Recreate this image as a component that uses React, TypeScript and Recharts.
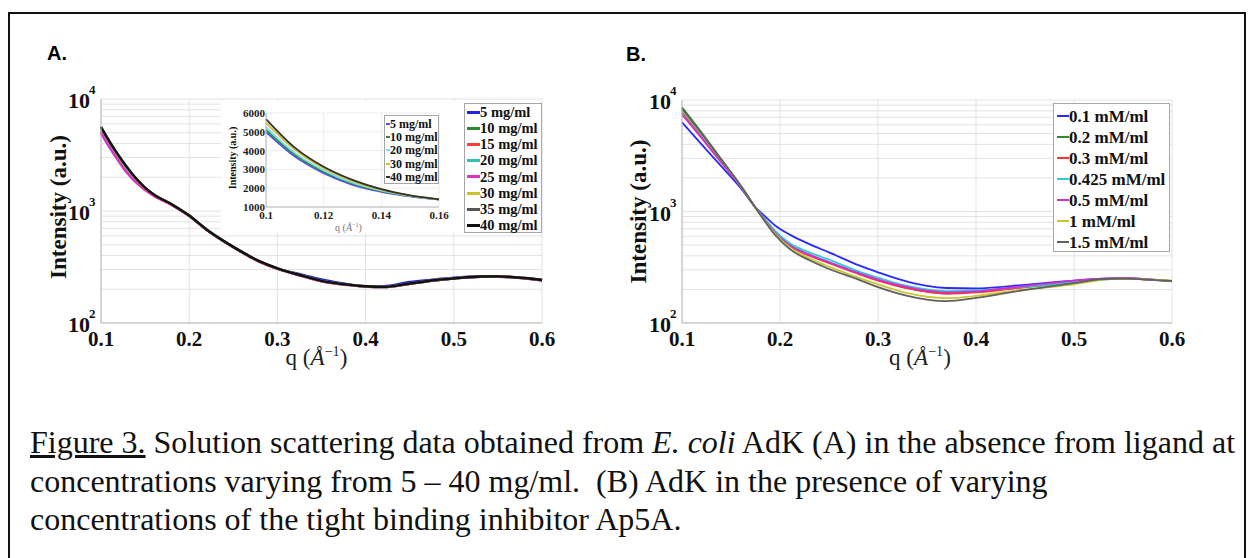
import React from 'react';
import { LineChart, Line, XAxis, YAxis, CartesianGrid, Legend } from 'recharts';

const SERIF = '"Liberation Serif", "Times New Roman", Times, serif';
const SANS = '"Liberation Sans", Arial, Helvetica, sans-serif';

// ---- panel A: AdK without ligand, 5 - 40 mg/ml ----
const qA = [0.1, 0.11, 0.12, 0.13, 0.14, 0.15, 0.16, 0.18, 0.2, 0.22, 0.25, 0.28, 0.3, 0.33, 0.35, 0.38, 0.4, 0.42, 0.45, 0.48, 0.5, 0.53, 0.55, 0.58, 0.6];
const a5 = [4980, 3680, 2800, 2180, 1810, 1560, 1380, 1140, 905, 678, 476, 352, 306, 268, 245, 222, 212, 213, 232, 245, 254, 260, 260, 251, 241];
const a10 = [5100, 3780, 2880, 2240, 1840, 1580, 1390, 1145, 908, 680, 477, 354, 307, 261, 237, 219, 212, 209, 224, 241, 250, 259, 260, 251, 241];
const a15 = [5150, 3800, 2870, 2220, 1820, 1555, 1370, 1140, 905, 676, 475, 352, 306, 260, 236, 219, 212, 209, 224, 241, 250, 259, 260, 251, 241];
const a20 = [5250, 3880, 2950, 2290, 1870, 1590, 1395, 1148, 909, 679, 477, 354, 307, 261, 237, 219, 212, 209, 224, 241, 250, 259, 260, 251, 241];
const a25 = [5000, 3700, 2790, 2170, 1790, 1540, 1360, 1135, 902, 675, 474, 351, 305, 260, 236, 218, 211, 209, 223, 240, 249, 258, 259, 250, 240];
const a30 = [5480, 4050, 3060, 2380, 1910, 1600, 1405, 1150, 910, 680, 478, 355, 308, 262, 238, 220, 213, 210, 225, 242, 250, 260, 261, 252, 242];
const a35 = [5550, 4100, 3100, 2410, 1930, 1610, 1405, 1150, 910, 680, 478, 355, 308, 262, 238, 220, 213, 210, 225, 242, 250, 260, 261, 252, 242];
const a40 = [5650, 4150, 3140, 2440, 1950, 1620, 1400, 1150, 910, 680, 478, 355, 308, 262, 238, 220, 213, 210, 225, 242, 250, 260, 261, 252, 242];

// ---- inset of panel A (linear, low q) ----
const qIn = [0.1, 0.11, 0.12, 0.13, 0.14, 0.15, 0.16];
const in5 = [4980, 3680, 2800, 2180, 1810, 1560, 1390];
const in10 = [5100, 3780, 2880, 2240, 1840, 1580, 1400];
const in20 = [5250, 3880, 2950, 2290, 1870, 1590, 1400];
const in30 = [5480, 4050, 3060, 2380, 1910, 1600, 1410];
const in40 = [5680, 4160, 3140, 2440, 1950, 1620, 1410];

// ---- panel B: AdK + Ap5A ----
const qB = [0.1, 0.12, 0.14, 0.16, 0.175, 0.185, 0.195, 0.21, 0.23, 0.25, 0.28, 0.3, 0.33, 0.35, 0.37, 0.4, 0.43, 0.45, 0.48, 0.5, 0.53, 0.55, 0.58, 0.6];
const b01 = [6300, 4000, 2550, 1620, 1090, 900, 750, 620, 510, 430, 330, 285, 235, 215, 206, 204, 212, 220, 232, 240, 250, 252, 245, 238];
const b02 = [8600, 5100, 2950, 1700, 1080, 830, 650, 500, 410, 350, 280, 245, 205, 192, 185, 190, 202, 210, 222, 232, 248, 250, 244, 238];
const b03 = [7700, 4700, 2800, 1680, 1085, 825, 640, 490, 402, 345, 276, 240, 205, 190, 183, 188, 200, 210, 225, 235, 248, 250, 244, 236];
const b0425 = [8000, 4850, 2870, 1690, 1085, 850, 670, 520, 430, 370, 290, 255, 215, 200, 193, 196, 205, 212, 222, 232, 245, 250, 244, 238];
const b05 = [7400, 4550, 2750, 1670, 1085, 830, 645, 495, 408, 350, 280, 245, 210, 195, 188, 192, 205, 215, 230, 240, 250, 252, 245, 237];
const b1 = [8200, 4950, 2900, 1690, 1080, 815, 630, 475, 380, 320, 255, 222, 185, 172, 167, 175, 190, 200, 212, 222, 245, 250, 245, 240];
const b15 = [8400, 5000, 2920, 1700, 1080, 805, 615, 460, 365, 305, 245, 210, 175, 162, 157, 168, 185, 198, 215, 228, 248, 250, 244, 238];

// ticks
const logTicks = [100, 200, 300, 400, 500, 600, 700, 800, 900, 1000, 2000, 3000, 4000, 5000, 6000, 7000, 8000, 9000, 10000];
const qTicks = [0.1, 0.2, 0.3, 0.4, 0.5, 0.6];
const insetYTicks = [1000, 2000, 3000, 4000, 5000, 6000];
const insetQTicks = [0.1, 0.12, 0.14, 0.16];

const seriesA = [
  { key: 'a5', name: '5 mg/ml', values: a5, color: '#2323e0' },
  { key: 'a10', name: '10 mg/ml', values: a10, color: '#2b8c2b' },
  { key: 'a15', name: '15 mg/ml', values: a15, color: '#ff3b3b' },
  { key: 'a20', name: '20 mg/ml', values: a20, color: '#2ec4b0' },
  { key: 'a25', name: '25 mg/ml', values: a25, color: '#e033c8' },
  { key: 'a30', name: '30 mg/ml', values: a30, color: '#c9c22a' },
  { key: 'a35', name: '35 mg/ml', values: a35, color: '#555555' },
  { key: 'a40', name: '40 mg/ml', values: a40, color: '#111111' },
];

const seriesIn = [
  { key: 'i5', name: '5 mg/ml', values: in5, color: '#5050ff' },
  { key: 'i10', name: '10 mg/ml', values: in10, color: '#2e8b2e' },
  { key: 'i20', name: '20 mg/ml', values: in20, color: '#80d8ff' },
  { key: 'i30', name: '30 mg/ml', values: in30, color: '#d0c030' },
  { key: 'i40', name: '40 mg/ml', values: in40, color: '#303030' },
];

const seriesB = [
  { key: 'b01', name: '0.1 mM/ml', values: b01, color: '#2a2aff' },
  { key: 'b02', name: '0.2 mM/ml', values: b02, color: '#2e8a2e' },
  { key: 'b03', name: '0.3 mM/ml', values: b03, color: '#ff3030' },
  { key: 'b0425', name: '0.425 mM/ml', values: b0425, color: '#30c8d8' },
  { key: 'b05', name: '0.5 mM/ml', values: b05, color: '#d030d0' },
  { key: 'b1', name: '1 mM/ml', values: b1, color: '#c8c830' },
  { key: 'b15', name: '1.5 mM/ml', values: b15, color: '#606060' },
];

function toRows(q: number[], series: { key: string; values: number[] }[]) {
  return q.map((x, i) => {
    const row: any = { q: x };
    series.forEach((s) => {
      row[s.key] = s.values[i];
    });
    return row;
  });
}

const GRID = '#e2e2e2';
const FRAME = '#b8b8b8';

const LogTick = ({ x, y, payload }: any) => {
  const exp = Math.round(Math.log10(payload.value));
  if (Math.pow(10, exp) !== payload.value) return null;
  return (
    <g fontFamily={SERIF} fontWeight="bold" fill="#111">
      <text x={x - 11} y={y + 9} textAnchor="end" fontSize={22}>10</text>
      <text x={x - 12} y={y - 5} fontSize={13}>{exp}</text>
    </g>
  );
};

const QTick = ({ x, y, payload }: any) => (
  <text x={x} y={y + 23} textAnchor="middle" fontFamily={SERIF} fontWeight="bold" fontSize={21} fill="#111">
    {payload.value.toFixed(1)}
  </text>
);

const InsetYTick = ({ x, y, payload }: any) => (
  <text x={x - 1} y={y + 4} textAnchor="end" fontFamily={SERIF} fontWeight="bold" fontSize={11} fill="#222">
    {payload.value}
  </text>
);

const InsetQTick = ({ x, y, payload }: any) => (
  <text x={x} y={y + 12} textAnchor="middle" fontFamily={SERIF} fontWeight="bold" fontSize={11} fill="#222">
    {payload.value === 0.1 ? '0.1' : payload.value.toFixed(2)}
  </text>
);

const qLabel = (size: number, dx: number, dy: number, color: string) => (props: any) => {
  const vb = props.viewBox;
  const cx = vb.x + vb.width / 2 + dx;
  const cy = vb.y + dy;
  return (
    <text x={cx} y={cy} textAnchor="middle" fontFamily={SERIF} fontSize={size} fill={color}>
      q (<tspan fontStyle="italic">Å</tspan>
      <tspan dy={-size * 0.4} fontSize={size * 0.62}>−1</tspan>
      <tspan dy={size * 0.4}>)</tspan>
    </text>
  );
};

const intensityLabel = (size: number, fromLeft: number, dy: number) => (props: any) => {
  const vb = props.viewBox;
  const cx = vb.x + vb.width - fromLeft;
  const cy = vb.y + vb.height / 2 + dy;
  return (
    <text
      x={cx}
      y={cy}
      transform={`rotate(-90 ${cx} ${cy})`}
      textAnchor="middle"
      dominantBaseline="central"
      fontFamily={SERIF}
      fontWeight="bold"
      fontSize={size}
      fill="#111"
    >
      Intensity (a.u.)
    </text>
  );
};

const legendBox = (
  items: { name: string; color: string }[],
  opts: { width: number; height: number; rowH: number; padTop: number; sampleW: number; sampleGap: number; lineW: number; fontSize: number }
) => () => (
  <div
    style={{
      boxSizing: 'border-box',
      width: opts.width,
      height: opts.height,
      border: '1px solid #a6a6a6',
      background: '#fff',
      paddingTop: opts.padTop,
      paddingLeft: opts.sampleGap,
    }}
  >
    {items.map((it) => (
      <div key={it.name} style={{ display: 'flex', alignItems: 'center', height: opts.rowH }}>
        <span style={{ display: 'inline-block', width: opts.sampleW, height: opts.lineW, background: it.color }} />
        <span
          style={{
            fontFamily: SERIF,
            fontWeight: 'bold',
            fontSize: opts.fontSize,
            color: '#111',
            whiteSpace: 'nowrap',
            lineHeight: 1,
          }}
        >
          {it.name}
        </span>
      </div>
    ))}
  </div>
);

function PanelA() {
  const rows = toRows(qA, seriesA);
  return (
    <LineChart width={620} height={400} data={rows} margin={{ top: 99, right: 78, bottom: 37, left: 41 }}>
      <CartesianGrid stroke={GRID} />
      <XAxis
        dataKey="q"
        type="number"
        domain={[0.1, 0.6]}
        ticks={qTicks}
        interval={0}
        height={40}
        tickSize={0}
        tickMargin={0}
        tick={QTick}
        axisLine={{ stroke: FRAME }}
        label={qLabel(23, -5, 42, '#222')}
      />
      <XAxis xAxisId="top" orientation="top" dataKey="q" type="number" domain={[0.1, 0.6]} height={0} tick={false} tickLine={false} axisLine={{ stroke: FRAME }} />
      <YAxis
        scale="log"
        domain={[100, 10000]}
        allowDataOverflow
        ticks={logTicks}
        interval={0}
        width={60}
        tickSize={0}
        tickMargin={0}
        tick={LogTick}
        axisLine={{ stroke: FRAME }}
        label={intensityLabel(23, 43, -4)}
      />
      <YAxis yAxisId="right" orientation="right" scale="log" domain={[100, 10000]} allowDataOverflow width={0} tick={false} tickLine={false} axisLine={{ stroke: FRAME }} />
      <Legend
        layout="vertical"
        align="center"
        verticalAlign="middle"
        wrapperStyle={{ left: 464, top: 103, width: 78, height: 130 }}
        content={legendBox(seriesA, { width: 78, height: 130, rowH: 16.2, padTop: 0, sampleW: 13, sampleGap: 2, lineW: 3, fontSize: 14.5 })}
      />
      {seriesA.map((s) => (
        <Line key={s.key} dataKey={s.key} type="monotone" stroke={s.color} strokeWidth={2.4} dot={false} isAnimationActive={false} />
      ))}
    </LineChart>
  );
}

function InsetA() {
  const rows = toRows(qIn, seriesIn);
  return (
    <LineChart width={243} height={132} data={rows} margin={{ top: 12, right: 25, bottom: 0, left: 0 }} style={{ background: '#fff' }}>
      <CartesianGrid stroke="#ececec" />
      <XAxis
        dataKey="q"
        type="number"
        domain={[0.1, 0.16]}
        ticks={insetQTicks}
        interval={0}
        height={26}
        tickSize={0}
        tickMargin={0}
        tick={InsetQTick}
        axisLine={{ stroke: FRAME }}
        label={qLabel(10, -4, 24, '#777')}
      />
      <XAxis xAxisId="top" orientation="top" dataKey="q" type="number" domain={[0.1, 0.16]} height={0} tick={false} tickLine={false} axisLine={{ stroke: FRAME }} />
      <YAxis
        domain={[1000, 6000]}
        ticks={insetYTicks}
        interval={0}
        width={45}
        tickSize={0}
        tickMargin={0}
        tick={InsetYTick}
        axisLine={{ stroke: FRAME }}
        label={intensityLabel(10, 34, -2)}
      />
      <YAxis yAxisId="right" orientation="right" domain={[1000, 6000]} width={0} tick={false} tickLine={false} axisLine={{ stroke: FRAME }} />
      <Legend
        layout="vertical"
        align="center"
        verticalAlign="middle"
        wrapperStyle={{ left: 163, top: 14, width: 55, height: 69 }}
        content={legendBox(seriesIn, { width: 55, height: 69, rowH: 13.4, padTop: 1, sampleW: 4, sampleGap: 1, lineW: 2, fontSize: 12 })}
      />
      {seriesIn.map((s) => (
        <Line key={s.key} dataKey={s.key} type="monotone" stroke={s.color} strokeWidth={1.8} dot={false} isAnimationActive={false} />
      ))}
    </LineChart>
  );
}

function PanelB() {
  const rows = toRows(qB, seriesB);
  return (
    <LineChart width={628} height={400} data={rows} margin={{ top: 100, right: 76, bottom: 37, left: 2 }}>
      <CartesianGrid stroke={GRID} />
      <XAxis
        dataKey="q"
        type="number"
        domain={[0.1, 0.6]}
        ticks={qTicks}
        interval={0}
        height={40}
        tickSize={0}
        tickMargin={0}
        tick={QTick}
        axisLine={{ stroke: FRAME }}
        label={qLabel(23, -7, 42, '#222')}
      />
      <XAxis xAxisId="top" orientation="top" dataKey="q" type="number" domain={[0.1, 0.6]} height={0} tick={false} tickLine={false} axisLine={{ stroke: FRAME }} />
      <YAxis
        scale="log"
        domain={[100, 10000]}
        allowDataOverflow
        ticks={logTicks}
        interval={0}
        width={60}
        tickSize={0}
        tickMargin={0}
        tick={LogTick}
        axisLine={{ stroke: FRAME }}
        label={intensityLabel(23, 44, 0)}
      />
      <YAxis yAxisId="right" orientation="right" scale="log" domain={[100, 10000]} allowDataOverflow width={0} tick={false} tickLine={false} axisLine={{ stroke: FRAME }} />
      <Legend
        layout="vertical"
        align="center"
        verticalAlign="middle"
        wrapperStyle={{ left: 433, top: 103, width: 117, height: 149 }}
        content={legendBox(seriesB, { width: 117, height: 149, rowH: 21, padTop: 1.5, sampleW: 12, sampleGap: 3, lineW: 2, fontSize: 17 })}
      />
      {seriesB.map((s) => (
        <Line key={s.key} dataKey={s.key} type="monotone" stroke={s.color} strokeWidth={1.8} dot={false} isAnimationActive={false} />
      ))}
    </LineChart>
  );
}

export default function App() {
  return (
    <div style={{ position: 'absolute', left: 0, top: 0, width: 1248, height: 558, background: '#fff', overflow: 'hidden' }}>
      <div
        style={{
          position: 'absolute',
          left: 8,
          top: 12,
          width: 1238,
          height: 560,
          boxSizing: 'border-box',
          border: '2px solid #111',
        }}
      />
      <div style={{ position: 'absolute', left: 47, top: 43, fontFamily: SANS, fontWeight: 'bold', fontSize: 20, lineHeight: '20px' }}>A.</div>
      <div style={{ position: 'absolute', left: 626, top: 44, fontFamily: SANS, fontWeight: 'bold', fontSize: 20, lineHeight: '20px' }}>B.</div>
      <div style={{ position: 'absolute', left: 0, top: 0 }}>
        <PanelA />
      </div>
      <div style={{ position: 'absolute', left: 221, top: 101 }}>
        <InsetA />
      </div>
      <div style={{ position: 'absolute', left: 620, top: 0 }}>
        <PanelB />
      </div>
      <div
        style={{
          position: 'absolute',
          left: 30,
          top: 423,
          fontFamily: SERIF,
          fontSize: 32,
          lineHeight: '38.5px',
          color: '#111',
          whiteSpace: 'nowrap',
        }}
      >
        <span style={{ textDecoration: 'underline' }}>Figure 3.</span> Solution scattering data obtained from <i>E. coli</i> AdK (A) in the absence from ligand at
        <br />
        concentrations varying from 5 – 40 mg/ml.&nbsp; (B) AdK in the presence of varying
        <br />
        concentrations of the tight binding inhibitor Ap5A.
      </div>
    </div>
  );
}
